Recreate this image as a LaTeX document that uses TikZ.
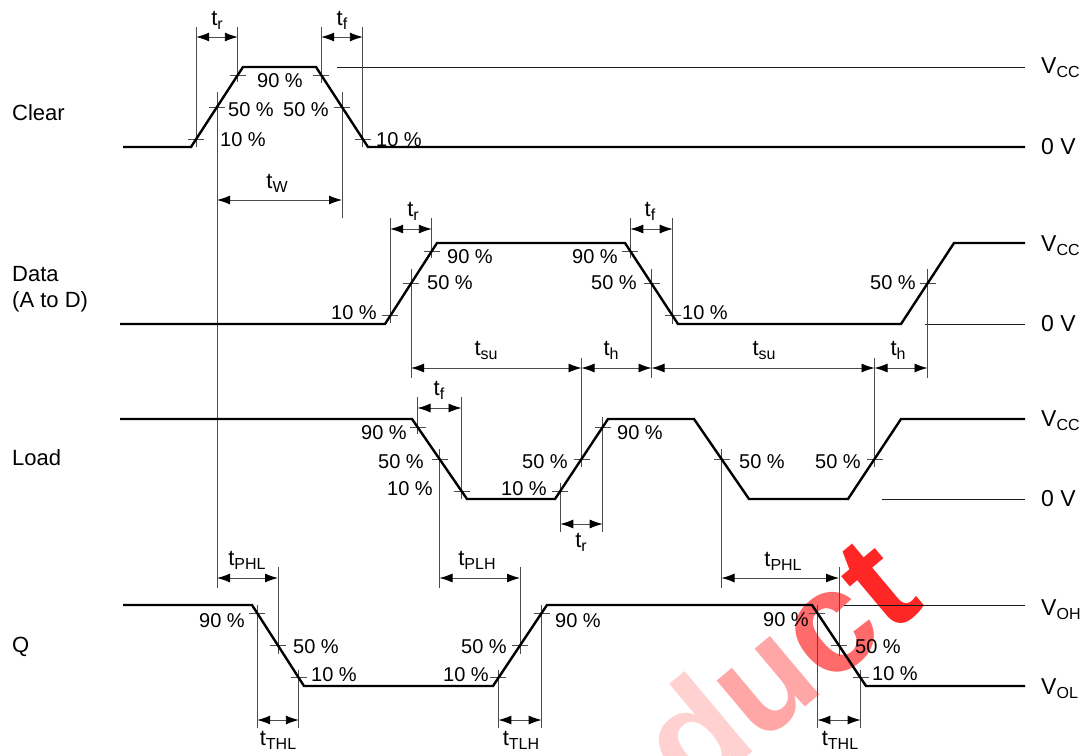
\documentclass[tikz,border=0pt]{standalone}
\usepackage{fontspec}
\setmainfont{Liberation Sans}
\usetikzlibrary{arrows.meta,calc}
\newcommand{\sbs}[1]{\raisebox{-4pt}{\fontsize{16}{16}\selectfont #1}}
\begin{document}
\begin{tikzpicture}[x=1pt,y=-1pt,
  sig/.style={line width=2.4pt, black},
  ext/.style={line width=0.9pt, black!70},
  refl/.style={line width=0.9pt, black!90},
  dim/.style={line width=0.9pt, black!70, {Latex[length=13pt,width=9pt,black]}-{Latex[length=13pt,width=9pt,black]}},
  pct/.style={font=\fontsize{20}{24}\selectfont, inner sep=0pt},
  tl/.style={font=\fontsize{22}{26}\selectfont, inner sep=0pt, anchor=base},
  sl/.style={font=\fontsize{22}{26}\selectfont, inner sep=0pt, anchor=base west},
  vl/.style={font=\fontsize{23}{26}\selectfont, inner sep=0pt, anchor=base west}]
\useasboundingbox (0,0) rectangle (1092,755);
\fill[white] (0,0) rectangle (1092,755);

% watermark
\begin{scope}
\clip (0,0) rectangle (1092,755);
\node[rotate=40, inner sep=0pt, font=\fontsize{145}{145}\selectfont\bfseries] (wm) at (776,664)
  {\color{red!18}d\color{red!35}u\color{red!58}c\color{red!85}t};
\end{scope}

% ---------- row levels ----------
\coordinate (yCtop) at (0,27);  \coordinate (yCA) at (0,37);
\coordinate (yW) at (0,200);
\coordinate (yDtop) at (0,218); \coordinate (yDA) at (0,229);
\coordinate (ySUtop) at (0,358); \coordinate (ySU) at (0,368); \coordinate (ySUbot) at (0,378);
\coordinate (yLtop) at (0,397); \coordinate (yLA) at (0,408);
\coordinate (yLB) at (0,524); \coordinate (yLBbot) at (0,532);
\coordinate (yQtop) at (0,567); \coordinate (yQA) at (0,578); \coordinate (yQAbot) at (0,588);
\coordinate (yQB) at (0,720); \coordinate (yQBbot) at (0,728);

% ---------- Clear ----------
\coordinate (C0) at (123,147); \coordinate (C1) at (191,147); \coordinate (C2) at (243,67);
\coordinate (C3) at (316,67);  \coordinate (C4) at (368,147); \coordinate (C5) at (1025,147);
\coordinate (Cr10) at ($(C1)!0.1!(C2)$); \coordinate (Cr50) at ($(C1)!0.5!(C2)$); \coordinate (Cr90) at ($(C1)!0.9!(C2)$);
\coordinate (Cf90) at ($(C3)!0.1!(C4)$); \coordinate (Cf50) at ($(C3)!0.5!(C4)$); \coordinate (Cf10) at ($(C3)!0.9!(C4)$);

% ---------- Data ----------
\coordinate (D0) at (120,324); \coordinate (D1) at (385,324); \coordinate (D2) at (437,243);
\coordinate (D3) at (625,243); \coordinate (D4) at (678,324); \coordinate (D5) at (901,324);
\coordinate (D6) at (954,243); \coordinate (D7) at (1025,243);
\coordinate (Dr10) at ($(D1)!0.1!(D2)$); \coordinate (Dr50) at ($(D1)!0.5!(D2)$); \coordinate (Dr90) at ($(D1)!0.9!(D2)$);
\coordinate (Df90) at ($(D3)!0.1!(D4)$); \coordinate (Df50) at ($(D3)!0.5!(D4)$); \coordinate (Df10) at ($(D3)!0.9!(D4)$);
\coordinate (D2r50) at ($(D5)!0.5!(D6)$);

% ---------- Load ----------
\coordinate (L0) at (120,419); \coordinate (L1) at (412,419); \coordinate (L2) at (467,499);
\coordinate (L3) at (555,499); \coordinate (L4) at (608,419); \coordinate (L5) at (694,419);
\coordinate (L6) at (749,499); \coordinate (L7) at (848,499); \coordinate (L8) at (901,419);
\coordinate (L9) at (1025,419);
\coordinate (Lf90) at ($(L1)!0.1!(L2)$); \coordinate (Lf50) at ($(L1)!0.5!(L2)$); \coordinate (Lf10) at ($(L1)!0.9!(L2)$);
\coordinate (Lr10) at ($(L3)!0.1!(L4)$); \coordinate (Lr50) at ($(L3)!0.5!(L4)$); \coordinate (Lr90) at ($(L3)!0.9!(L4)$);
\coordinate (L2f50) at ($(L5)!0.5!(L6)$); \coordinate (L2r50) at ($(L7)!0.5!(L8)$);

% ---------- Q ----------
\coordinate (Q0) at (123,605); \coordinate (Q1) at (252,605); \coordinate (Q2) at (304,686);
\coordinate (Q3) at (493,686); \coordinate (Q4) at (547,605); \coordinate (Q5) at (812,605);
\coordinate (Q6) at (866,686); \coordinate (Q7) at (1025,686);
\coordinate (Qf90) at ($(Q1)!0.1!(Q2)$); \coordinate (Qf50) at ($(Q1)!0.5!(Q2)$); \coordinate (Qf10) at ($(Q1)!0.9!(Q2)$);
\coordinate (Qr10) at ($(Q3)!0.1!(Q4)$); \coordinate (Qr50) at ($(Q3)!0.5!(Q4)$); \coordinate (Qr90) at ($(Q3)!0.9!(Q4)$);
\coordinate (Q2f90) at ($(Q5)!0.1!(Q6)$); \coordinate (Q2f50) at ($(Q5)!0.5!(Q6)$); \coordinate (Q2f10) at ($(Q5)!0.9!(Q6)$);

% ---------- reference lines ----------
\coordinate (CrefA) at (337,67);  \coordinate (CrefB) at (1025,67);
\coordinate (DrefA) at (925,324); \coordinate (DrefB) at (1025,324);
\coordinate (LrefA) at (882,499); \coordinate (LrefB) at (1025,499);
\coordinate (QrefA) at (844,605); \coordinate (QrefB) at (1025,605);
\draw[refl] (CrefA) -- (CrefB);
\draw[refl] (DrefA) -- (DrefB);
\draw[refl] (LrefA) -- (LrefB);
\draw[refl] (QrefA) -- (QrefB);

% ---------- extension lines ----------
\draw[ext] (Cr10 |- yCtop) -- ($(Cr10)+(0,8)$);
\draw[ext] (Cr90 |- yCtop) -- ($(Cr90)+(0,7)$);
\draw[ext] (Cf90 |- yCtop) -- ($(Cf90)+(0,8)$);
\draw[ext] (Cf10 |- yCtop) -- ($(Cf10)+(0,8)$);
\draw[ext] ($(Cr50)+(0,-15)$) -- (Cr50 |- yQAbot);
\draw[ext] ($(Cf50)+(0,-15)$) -- ($(Cf50 |- yW)+(0,18)$);

\draw[ext] (Dr10 |- yDtop) -- ($(Dr10)+(0,7)$);
\draw[ext] (Dr90 |- yDtop) -- ($(Dr90)+(0,7)$);
\draw[ext] (Df90 |- yDtop) -- ($(Df90)+(0,7)$);
\draw[ext] (Df10 |- yDtop) -- ($(Df10)+(0,8)$);
\draw[ext] ($(Dr50)+(0,-15)$) -- (Dr50 |- ySUbot);
\draw[ext] ($(Df50)+(0,-15)$) -- (Df50 |- ySUbot);
\draw[ext] ($(D2r50)+(0,-15)$) -- (D2r50 |- ySUbot);

\draw[ext] (Lf90 |- yLtop) -- ($(Lf90)+(0,7)$);
\draw[ext] (Lf10 |- yLtop) -- ($(Lf10)+(0,8)$);
\draw[ext] ($(Lr10)+(0,-8)$) -- (Lr10 |- yLBbot);
\draw[ext] ($(Lr90)+(0,-10)$) -- (Lr90 |- yLBbot);
\draw[ext] ($(Lf50)+(0,-10)$) -- (Lf50 |- yQAbot);
\draw[ext] ($(L2f50)+(0,-10)$) -- (L2f50 |- yQAbot);
\draw[ext] (Lr50 |- ySUtop) -- ($(Lr50)+(0,8)$);
\draw[ext] (L2r50 |- ySUtop) -- ($(L2r50)+(0,8)$);

\draw[ext] (Qf50 |- yQtop) -- ($(Qf50)+(0,8)$);
\draw[ext] (Qr50 |- yQtop) -- ($(Qr50)+(0,8)$);
\draw[ext] (Q2f50 |- yQtop) -- ($(Q2f50)+(0,10)$);
\draw[ext] ($(Qf90)+(0,-8)$) -- (Qf90 |- yQBbot);
\draw[ext] ($(Qf10)+(0,-8)$) -- (Qf10 |- yQBbot);
\draw[ext] ($(Qr10)+(0,-8)$) -- (Qr10 |- yQBbot);
\draw[ext] ($(Qr90)+(0,-8)$) -- (Qr90 |- yQBbot);
\draw[ext] ($(Q2f90)+(0,-8)$) -- (Q2f90 |- yQBbot);
\draw[ext] ($(Q2f10)+(0,-8)$) -- (Q2f10 |- yQBbot);

% ---------- tick marks ----------
\foreach \p in {Cr10,Cr50,Cr90,Cf90,Cf50,Cf10,Dr10,Dr50,Dr90,Df90,Df50,Df10,D2r50,
  Lf90,Lf50,Lf10,Lr10,Lr50,Lr90,L2f50,L2r50,Qf90,Qf50,Qf10,Qr10,Qr50,Qr90,Q2f90,Q2f50,Q2f10}
  \draw[ext] ($(\p)+(-8,0)$) -- ($(\p)+(8,0)$);

% ---------- signals ----------
\draw[sig] (C0) -- (C1) -- (C2) -- (C3) -- (C4) -- (C5);
\draw[sig] (D0) -- (D1) -- (D2) -- (D3) -- (D4) -- (D5) -- (D6) -- (D7);
\draw[sig] (L0) -- (L1) -- (L2) -- (L3) -- (L4) -- (L5) -- (L6) -- (L7) -- (L8) -- (L9);
\draw[sig] (Q0) -- (Q1) -- (Q2) -- (Q3) -- (Q4) -- (Q5) -- (Q6) -- (Q7);

% ---------- dimension arrows ----------
\draw[dim] (Cr10 |- yCA) -- (Cr90 |- yCA);
\draw[dim] (Cf90 |- yCA) -- (Cf10 |- yCA);
\draw[dim] (Cr50 |- yW) -- (Cf50 |- yW);
\draw[dim] (Dr10 |- yDA) -- (Dr90 |- yDA);
\draw[dim] (Df90 |- yDA) -- (Df10 |- yDA);
\draw[dim] (Dr50 |- ySU) -- (Lr50 |- ySU);
\draw[dim] (Lr50 |- ySU) -- (Df50 |- ySU);
\draw[dim] (Df50 |- ySU) -- (L2r50 |- ySU);
\draw[dim] (L2r50 |- ySU) -- (D2r50 |- ySU);
\draw[dim] (Lf90 |- yLA) -- (Lf10 |- yLA);
\draw[dim] (Lr10 |- yLB) -- (Lr90 |- yLB);
\draw[dim] (Cr50 |- yQA) -- (Qf50 |- yQA);
\draw[dim] (Lf50 |- yQA) -- (Qr50 |- yQA);
\draw[dim] (L2f50 |- yQA) -- (Q2f50 |- yQA);
\draw[dim] (Qf90 |- yQB) -- (Qf10 |- yQB);
\draw[dim] (Qr10 |- yQB) -- (Qr90 |- yQB);
\draw[dim] (Q2f90 |- yQB) -- (Q2f10 |- yQB);

% ---------- time labels ----------
\node[tl] (tr1) at (217,25) {t\sbs{r}};
\node[tl] (tf1) at (342,25) {t\sbs{f}};
\node[tl] (tw) at (277,188) {t\sbs{W}};
\node[tl] (tr2) at (413,216) {t\sbs{r}};
\node[tl] (tf2) at (650,216) {t\sbs{f}};
\node[tl] (tsu1) at (486,355) {t\sbs{su}};
\node[tl] (th1) at (611,355) {t\sbs{h}};
\node[tl] (tsu2) at (764,355) {t\sbs{su}};
\node[tl] (th2) at (898,355) {t\sbs{h}};
\node[tl] (tf3) at (439,395) {t\sbs{f}};
\node[tl] (tr3) at (581,547) {t\sbs{r}};
\node[tl] (tphl1) at (247,565) {t\sbs{PHL}};
\node[tl] (tplh) at (477,565) {t\sbs{PLH}};
\node[tl] (tphl2) at (783,566) {t\sbs{PHL}};
\node[tl] (tthl1) at (278,745) {t\sbs{THL}};
\node[tl] (ttlh) at (521,745) {t\sbs{TLH}};
\node[tl] (tthl2) at (840,745) {t\sbs{THL}};

% ---------- percentage labels ----------
\node[pct] (c90) at (280,81) {90 \%};
\node[pct] (c50a) at (251,110) {50 \%};
\node[pct] (c50b) at (306,110) {50 \%};
\node[pct] (c10a) at (243,140) {10 \%};
\node[pct] (c10b) at (399,140) {10 \%};

\node[pct] (d10a) at (354,313) {10 \%};
\node[pct] (d50a) at (450,283) {50 \%};
\node[pct] (d90a) at (470,257) {90 \%};
\node[pct] (d90b) at (595,257) {90 \%};
\node[pct] (d50b) at (614,283) {50 \%};
\node[pct] (d10b) at (705,313) {10 \%};
\node[pct] (d50c) at (893,283) {50 \%};

\node[pct] (l90a) at (384,433) {90 \%};
\node[pct] (l50a) at (401,462) {50 \%};
\node[pct] (l10a) at (410,489) {10 \%};
\node[pct] (l10b) at (524,489) {10 \%};
\node[pct] (l50b) at (545,462) {50 \%};
\node[pct] (l90b) at (640,433) {90 \%};
\node[pct] (l50c) at (762,462) {50 \%};
\node[pct] (l50d) at (838,462) {50 \%};

\node[pct] (q90a) at (222,621) {90 \%};
\node[pct] (q50a) at (316,647) {50 \%};
\node[pct] (q10a) at (334,675) {10 \%};
\node[pct] (q10b) at (466,675) {10 \%};
\node[pct] (q50b) at (484,647) {50 \%};
\node[pct] (q90b) at (578,621) {90 \%};
\node[pct] (q90c) at (786,620) {90 \%};
\node[pct] (q50c) at (878,647) {50 \%};
\node[pct] (q10c) at (895,674) {10 \%};

% ---------- signal names ----------
\node[sl] (nclear) at (12,120) {Clear};
\node[sl] (ndata) at (12,281) {Data};
\node[sl] (natod) at (12,307) {(A to D)};
\node[sl] (nload) at (12,465) {Load};
\node[sl] (nq) at (12,652) {Q};

% ---------- level names ----------
\node[vl] (cvcc) at (1041,73) {V\sbs{CC}};
\node[vl] (c0v) at (1041,154) {0 V};
\node[vl] (dvcc) at (1041,251) {V\sbs{CC}};
\node[vl] (d0v) at (1041,331) {0 V};
\node[vl] (lvcc) at (1041,426) {V\sbs{CC}};
\node[vl] (l0v) at (1041,506) {0 V};
\node[vl] (qvoh) at (1041,615) {V\sbs{OH}};
\node[vl] (qvol) at (1041,694) {V\sbs{OL}};
\end{tikzpicture}
\end{document}
